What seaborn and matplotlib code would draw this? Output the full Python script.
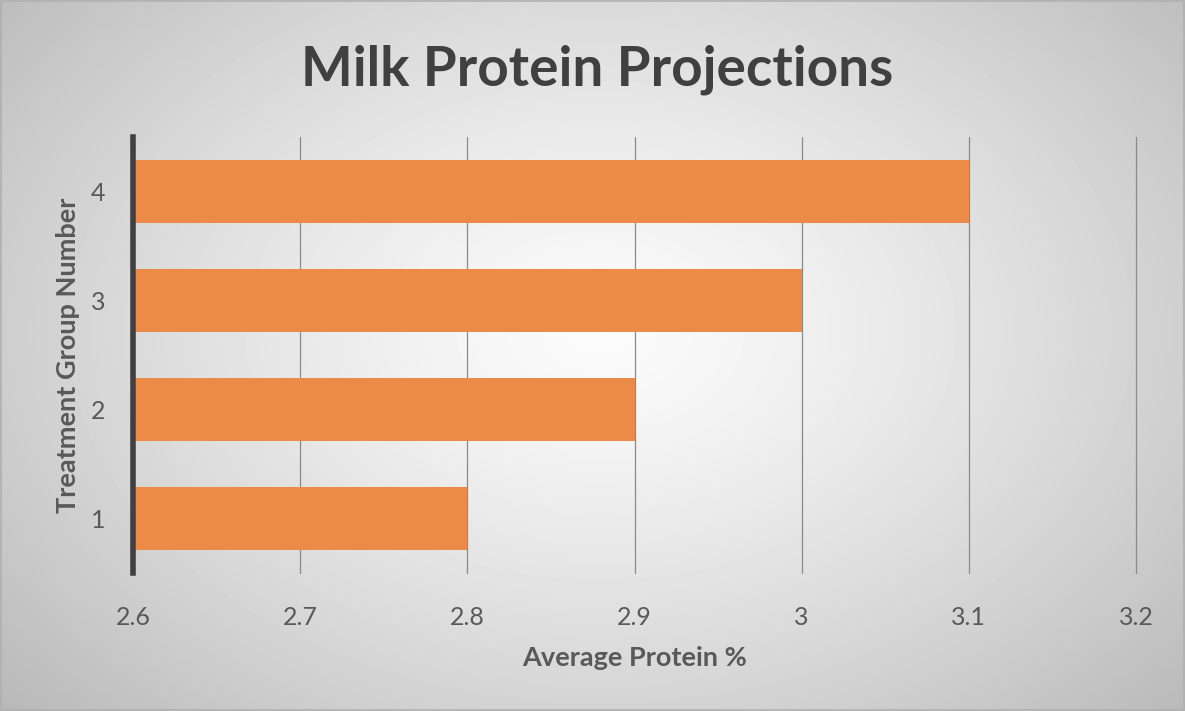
import numpy as np
import pandas as pd
import matplotlib
matplotlib.use("Agg")
import matplotlib.pyplot as plt
import seaborn as sns

# Chart data
groups = ["1", "2", "3", "4"]
protein = [2.8, 2.9, 3.0, 3.1]
x_ticks = [2.6, 2.7, 2.8, 2.9, 3.0, 3.1, 3.2]
x_tick_labels = ["2.6", "2.7", "2.8", "2.9", "3", "3.1", "3.2"]

df = pd.DataFrame({"group": groups, "protein": protein})

sns.set_theme(style="white")
plt.rcParams["font.family"] = ["Lato", "DejaVu Sans"]

fig = plt.figure(figsize=(11.85, 7.11), dpi=100)

# Radial gradient backdrop
bg = fig.add_axes([0, 0, 1, 1], zorder=-10)
yy, xx = np.mgrid[0:711, 0:1185]
r = np.sqrt(((xx - 600) / 800.0) ** 2 + ((yy - 330) / 560.0) ** 2)
shade = np.clip(0.985 - 0.26 * r ** 1.3, 0.72, 1.0)
bg.imshow(shade, cmap="gray", vmin=0, vmax=1, aspect="auto",
          extent=[0, 1, 0, 1], origin="upper", interpolation="bilinear")
bg.set_xlim(0, 1)
bg.set_ylim(0, 1)
bg.axis("off")
bg.plot([0.001, 0.999, 0.999, 0.001, 0.001], [0.001, 0.001, 0.999, 0.999, 0.001],
        color="#b0b0b0", lw=1.2, transform=bg.transAxes)

ax = fig.add_axes([133 / 1185, 138 / 711, (1136 - 133) / 1185, (574 - 138) / 711])
ax.patch.set_alpha(0)

sns.barplot(data=df, x="protein", y="group", order=groups[::-1], orient="h",
            color="#EC8A48", saturation=1, width=0.58, linewidth=0,
            ax=ax, zorder=3)

ax.set_xlim(2.6, 3.2)
ax.set_ylim(3.5, -0.5)
ax.set_xticks(x_ticks)
ax.set_xticklabels(x_tick_labels)
ax.xaxis.grid(True, color="#8a8a8a", lw=0.9, zorder=0)
ax.set_axisbelow(True)
for gl in ax.get_xgridlines():
    gl.set_clip_on(False)

for side in ["top", "right", "bottom"]:
    ax.spines[side].set_visible(False)
ax.spines["left"].set_color("#404040")
ax.spines["left"].set_linewidth(4)
ax.spines["left"].set_zorder(5)

ax.tick_params(axis="both", length=0, labelsize=18, labelcolor="#595959")
ax.tick_params(axis="x", pad=24)
ax.tick_params(axis="y", pad=20)

ax.set_xlabel("Average Protein %", fontsize=19.5, fontweight="bold",
              color="#595959", labelpad=12)
ax.set_ylabel("Treatment Group Number", fontsize=19.5, fontweight="bold",
              color="#595959", labelpad=8)

fig.text(0.504, 0.902, "Milk Protein Projections", ha="center", va="center",
         fontsize=39.5, fontweight="bold", color="#404040")

fig.savefig("out.png", dpi=100)
